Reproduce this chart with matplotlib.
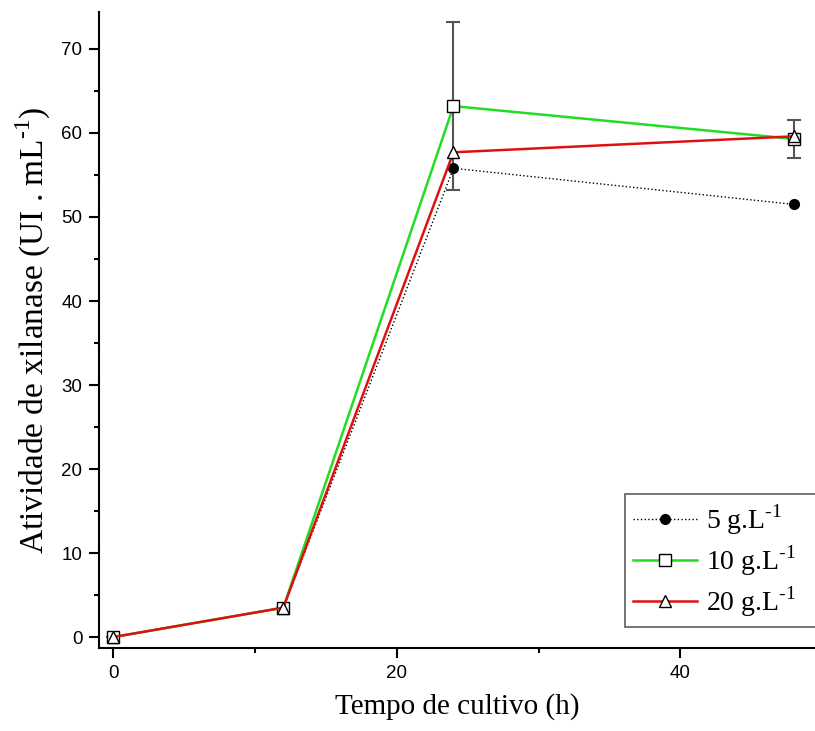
import matplotlib
matplotlib.use('Agg')
import matplotlib.pyplot as plt
from matplotlib.ticker import MultipleLocator

# tempo de cultivo (h)
tempo = [0, 12, 24, 48]

# atividade de xilanase (UI/mL) por concentracao
c5 = [0, 3.5, 55.8, 51.5]
c10 = [0, 3.5, 63.2, 59.3]
c20 = [0, 3.5, 57.7, 59.6]
c10_err = [0, 0, 10.0, 2.3]

serif = 'Liberation Serif'
sans = 'Liberation Sans'

plt.rcParams['mathtext.fontset'] = 'custom'
plt.rcParams['mathtext.rm'] = serif

fig = plt.figure(figsize=(8.15, 7.31), dpi=100)
ax = fig.add_axes([99/815, 83/731, 716/815, 636/731])

ax.errorbar(tempo, c10, yerr=c10_err, fmt='none', ecolor='#555555',
            elinewidth=1.5, capsize=5, capthick=1.5, zorder=1)
ax.plot(tempo, c5, ls=':', color='black', lw=1, marker='o', ms=7,
        mfc='black', mec='black', label=r'5 g.L$^{\text{-1}}$', zorder=2)
ax.plot(tempo, c10, ls='-', color='#22dd22', lw=1.8, marker='s', ms=8,
        mfc='white', mec='black', mew=1, label=r'10 g.L$^{\text{-1}}$', zorder=3)
ax.plot(tempo, c20, ls='-', color='#dd1111', lw=1.8, marker='^', ms=9,
        mfc='white', mec='black', mew=1, label=r'20 g.L$^{\text{-1}}$', zorder=4)

ax.set_xlim(-1, 49.5)
ax.set_ylim(-1.3, 74.4)
ax.xaxis.set_major_locator(MultipleLocator(20))
ax.xaxis.set_minor_locator(MultipleLocator(10))
ax.yaxis.set_major_locator(MultipleLocator(10))
ax.yaxis.set_minor_locator(MultipleLocator(5))

for s in ['top', 'right']:
    ax.spines[s].set_visible(False)
for s in ['left', 'bottom']:
    ax.spines[s].set_linewidth(1.5)

ax.tick_params(which='both', direction='out', width=1.5, labelsize=13.5)
ax.tick_params(which='major', length=7, pad=5)
ax.tick_params(which='minor', length=3.5)
for lab in ax.get_xticklabels() + ax.get_yticklabels():
    lab.set_fontfamily(sans)

ax.set_xlabel('Tempo de cultivo (h)', fontfamily=serif, fontsize=21, labelpad=8)
ax.set_ylabel(r'Atividade de xilanase (UI . mL$^{\text{-1}}$)', fontfamily=serif,
              fontsize=24, labelpad=6)

# legenda encostada na borda direita
leg = ax.legend(loc='lower left', bbox_to_anchor=(625/815, 104/731, 205/815, 132/731),
                bbox_transform=fig.transFigure, borderaxespad=0, mode='expand',
                prop={'family': serif, 'size': 20}, frameon=True, fancybox=False,
                edgecolor='#333333', handlelength=2.3, borderpad=0.3,
                labelspacing=0.22, handletextpad=0.3)
leg.get_frame().set_linewidth(1.2)

fig.savefig('out.png', dpi=100)
